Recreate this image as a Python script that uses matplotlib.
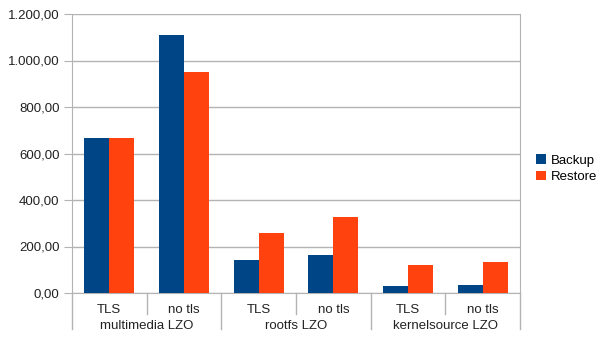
import matplotlib
matplotlib.use("Agg")
import matplotlib.pyplot as plt
import numpy as np

plt.rcParams['font.family'] = ['Liberation Sans', 'DejaVu Sans']

# data
groups = ['multimedia LZO', 'rootfs LZO', 'kernelsource LZO']
subs = ['TLS', 'no tls', 'TLS', 'no tls', 'TLS', 'no tls']
backup = [667, 1110, 143, 164, 30, 34]
restore = [667, 950, 258, 327, 120, 133]

fig = plt.figure(figsize=(6.05, 3.4), dpi=100)
ax = fig.add_axes([72/605, 47/340, 448/605, 279/340])

x = np.arange(len(subs))
w = 0.335
ax.bar(x - w/2, backup, w, color='#004586', label='Backup', zorder=3)
ax.bar(x + w/2, restore, w, color='#ff420e', label='Restore', zorder=3)

ax.set_xlim(-0.5, len(subs) - 0.5)
ax.set_ylim(0, 1200)
ax.set_yticks(np.arange(0, 1201, 200))
ax.set_yticklabels(['{:,.2f}'.format(v).replace(',', 'X').replace('.', ',').replace('X', '.')
                    for v in np.arange(0, 1201, 200)], fontsize=9.5, color='#222222')
ax.yaxis.grid(True, color='#b3b3b3', linewidth=1, zorder=0)
ax.tick_params(axis='y', length=6, color='#b3b3b3', pad=3)
ax.tick_params(axis='x', length=0)
ax.set_xticks([])

ax.spines['top'].set_visible(False)
for s in ['left', 'right', 'bottom']:
    ax.spines[s].set_color('#b3b3b3')

# category labels and separators below axis
trans = ax.get_xaxis_transform()
for i, lab in enumerate(subs):
    ax.text(i, -0.06, lab, transform=trans, ha='center', va='center', fontsize=9.5, color='#222222')
for i in range(len(subs) + 1):
    xe = i - 0.5
    y_end = -0.13 if i % 2 == 0 else -0.075
    ax.plot([xe, xe], [0, y_end], transform=trans, color='#b3b3b3', lw=1, clip_on=False)
for g, lab in enumerate(groups):
    ax.text(2*g + 0.5, -0.118, lab, transform=trans, ha='center', va='center', fontsize=9.5, color='#222222')

ax.legend(loc='center left', bbox_to_anchor=(1.01, 0.445), frameon=False, fontsize=9.5,
          handlelength=0.7, handleheight=0.7, handletextpad=0.4, labelspacing=0.35)

fig.savefig('out.png', dpi=100)
